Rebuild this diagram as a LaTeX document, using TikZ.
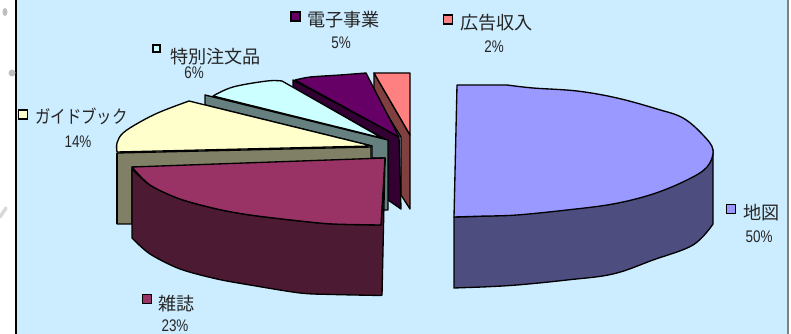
\documentclass[tikz,border=0pt]{standalone}
\usepackage{fontspec}
\usepackage{graphicx}
\setmainfont{Noto Sans CJK JP}
\newfontfamily\pctfont{Liberation Sans}
\definecolor{bgblue}{HTML}{CCECFF}
\definecolor{mapc}{HTML}{9999FF}\definecolor{mapd}{HTML}{4D4D80}
\definecolor{magc}{HTML}{993366}\definecolor{magd}{HTML}{4D1A33}
\definecolor{guic}{HTML}{FFFFCC}\definecolor{guid}{HTML}{808066}
\definecolor{spec}{HTML}{CCFFFF}\definecolor{sped}{HTML}{668080}
\definecolor{ebuc}{HTML}{660066}\definecolor{ebud}{HTML}{330033}
\definecolor{adsc}{HTML}{FF8080}\definecolor{adsd}{HTML}{804040}
\tikzset{
  edge/.style={draw=black,line width=1pt,line join=round},
  swatch/.style={draw=black,line width=1.1pt,minimum size=7pt,inner sep=0pt,fill=#1},
  lab/.style={anchor=base west,inner sep=0pt,font=\fontsize{13.6pt}{14pt}\selectfont,text=black!85},
  pct/.style={inner sep=0pt,text=black!85}
}
\newcommand{\pctt}[1]{\scalebox{.8}[1]{\pctfont\fontsize{12.6pt}{14pt}\selectfont #1}}
\begin{document}
\begin{tikzpicture}[x=0.75pt,y=-0.75pt]
\useasboundingbox (0,0) rectangle (791,334);
\fill[white] (0,0) rectangle (791,334);
\fill[bgblue] (16,0) rectangle (787,334);
\draw[black,line width=1.1pt] (16,0) -- (16,334);
\draw[gray,line width=1.1pt] (788,0) -- (788,334);
\fill[black!25] (5,12) ellipse (2.5 and 4);
\fill[black!25] (12,73) ellipse (3.5 and 3.5);
\draw[black!15,line width=2.5pt,line cap=round] (0,217) -- (6,208);
% ad slice
\draw[edge,fill=adsd] (374,73) -- (410,135) -- (410,209) -- (401,195) -- (401,137) -- (374,93) -- cycle;
\draw[edge,fill=adsc] (374,73) -- (410,73) -- (410,135) -- cycle;
% e-business slice
\draw[edge,fill=ebud] (293,80) -- (399,137) -- (401,209) -- (388,200) -- (388,141) -- (293,88) -- cycle;
\draw[edge,fill=ebuc] plot[smooth,tension=.4] coordinates {(295,80) (310,77) (340,75) (366,73)} -- (399,137) -- cycle;
% special slice
\draw[edge,fill=sped] (205,95) -- (388,140) -- (388,210) -- (381,210) -- (385,158) -- (372,158) -- (372,146) -- (205,105) -- cycle;
\draw[edge,fill=spec] plot[smooth,tension=.6] coordinates {(213,96) (233,87) (267,81) (282,81)} -- (382,138) -- cycle;
% guidebook slice
\draw[edge,fill=guid] (117,153) -- (371,147) -- (371,165) -- (132,167) -- (132,224) -- (117,224) -- cycle;
\draw[black,line width=1.6pt] (117,153) -- (117,224);
\draw[edge,fill=guic] plot[smooth,tension=.6] coordinates {(117,152) (117,143) (123,133) (140,122) (160,112) (189,101)} -- (372,146) -- cycle;
% magazine slice
\draw[edge,fill=magd] plot[smooth,tension=.5] coordinates {(132,169) (150,185) (180,199) (217,209) (250,215) (300,221) (333,224) (381,225)} -- (385,158) -- (382,295) -- plot[smooth,tension=.5] coordinates {(381,295.5) (333,294.5) (300,293) (250,285) (217,279) (180,269) (150,254) (132,238)} -- cycle;
\draw[edge,fill=magc] plot[smooth,tension=.5] coordinates {(132,167) (150,185) (180,199) (217,209) (250,215) (300,221) (333,224) (381,225)} -- (385,158) -- cycle;
% map slice
\draw[edge,fill=mapd] (713,150) -- plot[smooth,tension=.6] coordinates {(713,224) (693,245) (653,260) (613,274) (567,280) (517,285) (482,287)} -- (454,288) -- (454,217) -- (490,216) -- cycle;
\draw[edge,fill=mapc] (457,85) -- plot[smooth,tension=.6] coordinates {(507,85) (533,88) (577,91) (617,98) (657,109) (683,118) (703,135) (713,150) (707,167) (687,180) (653,194) (613,204) (567,210) (517,215) (487,216)} -- (454,217) -- cycle;
% legend
\node[swatch=ebuc] (s1) at (295.5,16.5) {};
\node[lab] (t1) at (307,27) {電子事業};
\node[pct] (p1) at (341,43) {\pctt{5\%}};
\node[swatch=adsc] (s2) at (448,19.5) {};
\node[lab] (t2) at (460,30) {広告収入};
\node[pct] (p2) at (494,47) {\pctt{2\%}};
\node[swatch=spec,minimum size=5pt] (s3) at (156.5,48.5) {};
\node[lab] (t3) at (170,64) {特別注文品};
\node[pct] (p3) at (194,73) {\pctt{6\%}};
\node[swatch=guic] (s4) at (23,114.5) {};
\node[lab] (t4) at (35,124) {\scalebox{.85}[1]{ガイドブック}};
\node[pct] (p4) at (78,142) {\pctt{14\%}};
\node[swatch=mapc] (s5) at (731,209) {};
\node[lab] (t5) at (743,220) {地図};
\node[pct] (p5) at (759,237) {\pctt{50\%}};
\node[swatch=magc] (s6) at (147,299) {};
\node[lab] (t6) at (158,310) {雑誌};
\node[pct] (p6) at (175,325.5) {\pctt{23\%}};
\end{tikzpicture}
\end{document}
